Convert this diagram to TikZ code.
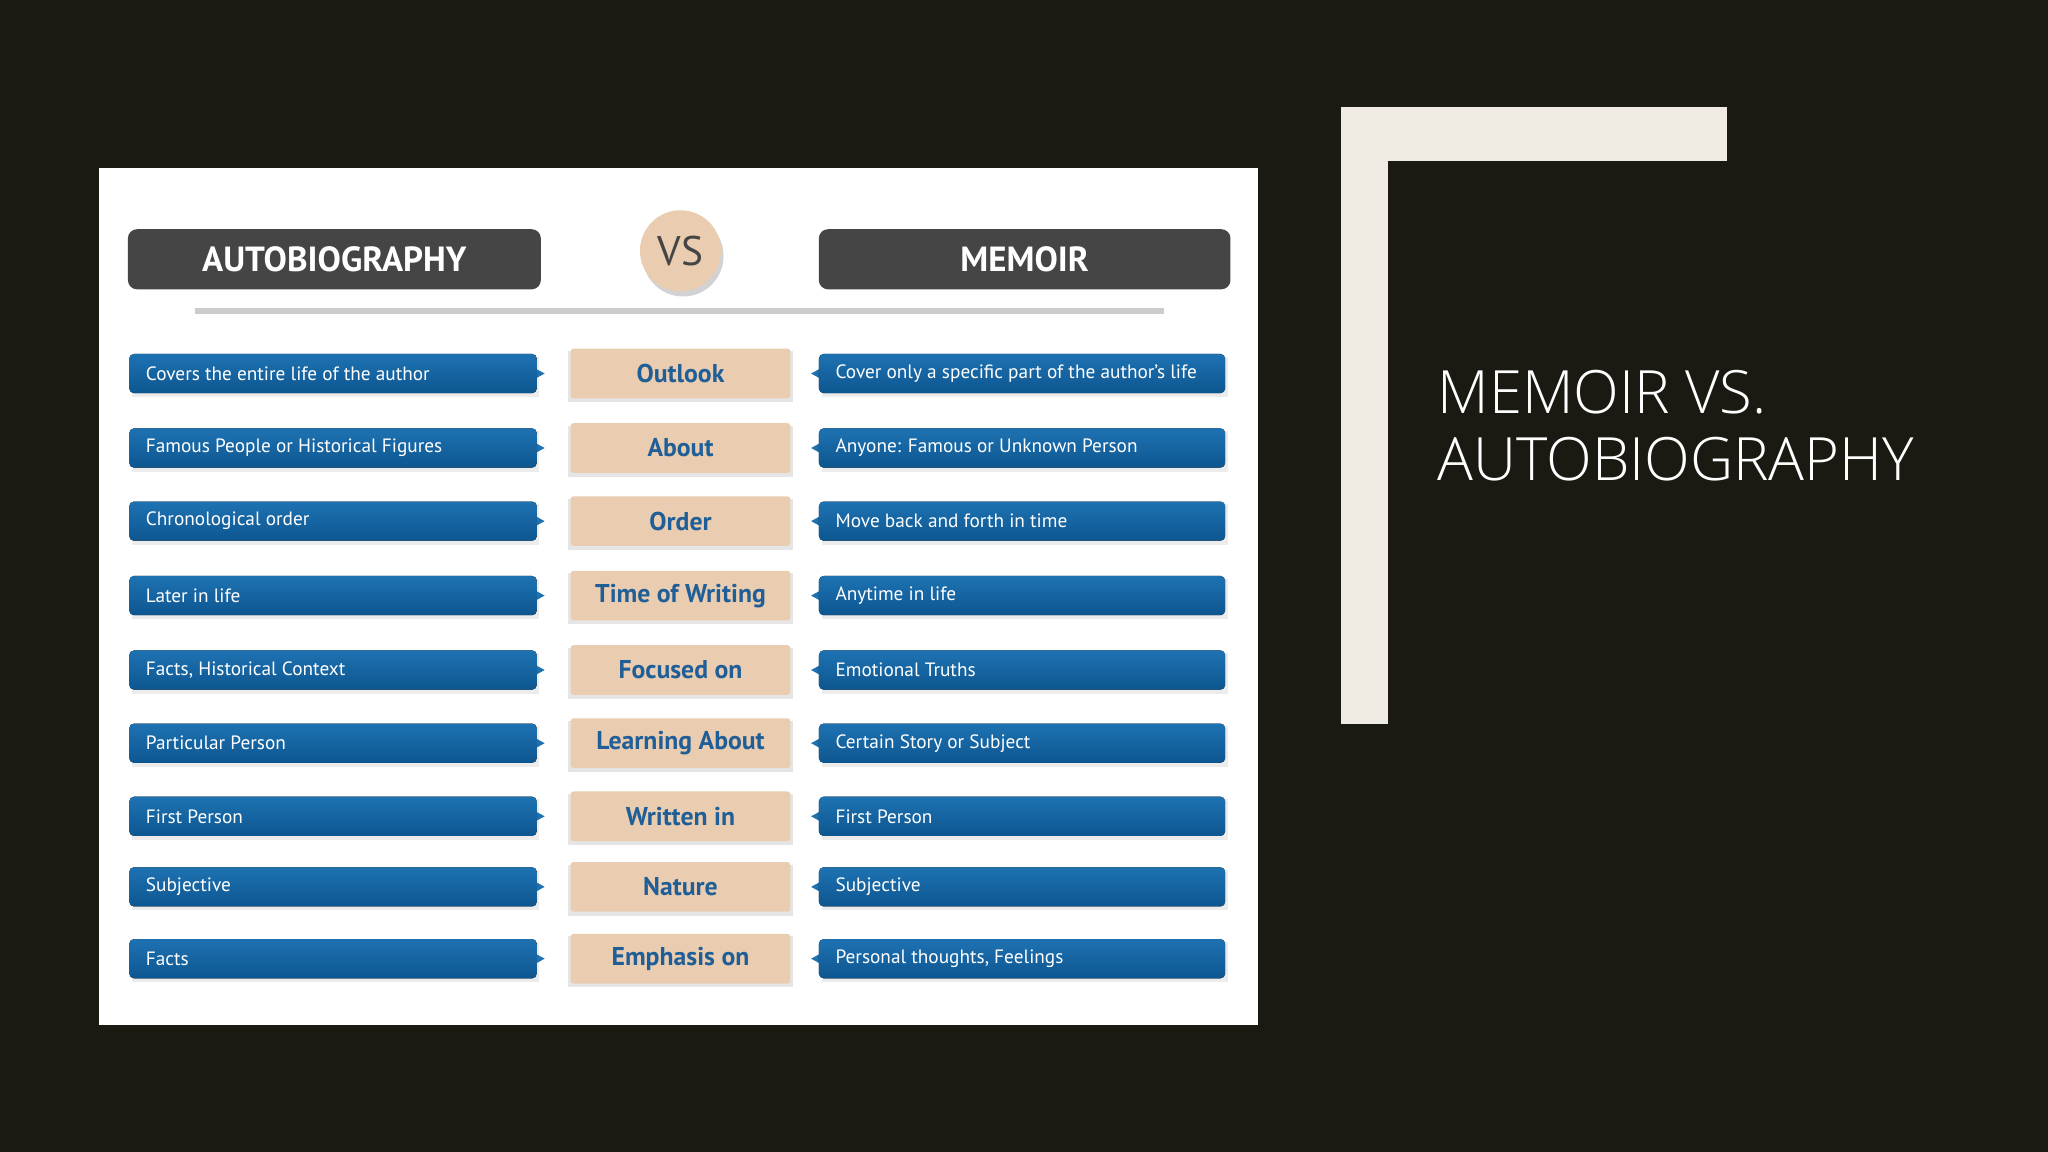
\documentclass[tikz,border=0pt]{standalone}
\usepackage{fontspec}
\setmainfont{PT Sans}
\newfontfamily\titlefont{Open Sans Light}
\usetikzlibrary{shapes.arrows}
\definecolor{bgdark}{HTML}{1A1A12}
\definecolor{cream}{HTML}{EFEBE3}
\definecolor{hdr}{HTML}{454545}
\definecolor{tan}{HTML}{EACDB0}
\definecolor{tblue}{HTML}{1F5E96}
\definecolor{btop}{HTML}{1E72B2}
\definecolor{bbot}{HTML}{0D5690}
\tikzset{
 hdrbox/.style={fill=hdr,rounded corners=2pt,text=white,font=\bfseries\fontsize{7.6}{8}\selectfont},
 midbox/.style={fill=tan,rounded corners=0.6pt,text=tblue,font=\bfseries\fontsize{5.6}{6}\selectfont,minimum width=1.68cm,minimum height=0.38cm,inner sep=0pt},
 bartext/.style={text=white,font=\fontsize{4.2}{5}\selectfont,anchor=west,inner sep=0pt},
 barfill/.style={top color=btop,bottom color=bbot,rounded corners=1pt},
}
\begin{document}
\begin{tikzpicture}[x=0.01cm,y=-0.01cm]
\fill[bgdark] (0,0) rectangle (1568,882);
\useasboundingbox (0,0) rectangle (1568,882);
\fill[white] (76,129) rectangle (963,785);
\fill[cream] (1027,82) rectangle (1322,123);
\fill[cream] (1027,82) rectangle (1063,554);
\node[anchor=north west,text=white,font=\titlefont\fontsize{13}{14.5}\selectfont,align=left,inner sep=0pt] (title) at (1100,283) {MEMOIR VS.\\AUTOBIOGRAPHY};
\node[hdrbox,minimum width=3.16cm,minimum height=0.46cm] (ha) at (256,198.5) {AUTOBIOGRAPHY};
\node[hdrbox,minimum width=3.15cm,minimum height=0.46cm] (hm) at (784.5,198.5) {MEMOIR};
\fill[gray!35] (523,196) circle (31);
\node[circle,fill=tan,minimum size=0.62cm,inner sep=0pt,text=hdr,font=\fontsize{9}{9}\selectfont] (vs) at (521,192) {VS};
\draw[gray!40,line width=1.2pt] (149,238) -- (891,238);
\foreach \y/\l/\m/\r [count=\i] in {
 286/Covers the entire life of the author/Outlook/Cover only a specific part of the author's life,
 343/Famous People or Historical Figures/About/{Anyone: Famous or Unknown Person},
 399/Chronological order/Order/Move back and forth in time,
 456/Later in life/Time of Writing/Anytime in life,
 513/{Facts, Historical Context}/Focused on/Emotional Truths,
 569/Particular Person/Learning About/Certain Story or Subject,
 625/First Person/Written in/First Person,
 679/Subjective/Nature/Subjective,
 734/Facts/Emphasis on/{Personal thoughts, Feelings}}{
 \fill[gray!15] (101,\y-13) rectangle (413,\y+18);
 \fill[gray!15] (629,\y-13) rectangle (940,\y+18);
 \fill[gray!20] (435,\y-17) rectangle (607,\y+22);
 \fill[btop] (406,\y-6) -- (417,\y) -- (406,\y+6) -- cycle;
 \fill[btop] (632,\y-6) -- (621,\y) -- (632,\y+6) -- cycle;
 \fill[barfill] (99,\y-15) rectangle (411,\y+15);
 \fill[barfill] (627,\y-15) rectangle (938,\y+15);
 \node[bartext] (l\i) at (111,\y) {\l};
 \node[bartext] (r\i) at (639,\y) {\r};
 \node[midbox] (m\i) at (521,\y) {\m};
}
\end{tikzpicture}
\end{document}
